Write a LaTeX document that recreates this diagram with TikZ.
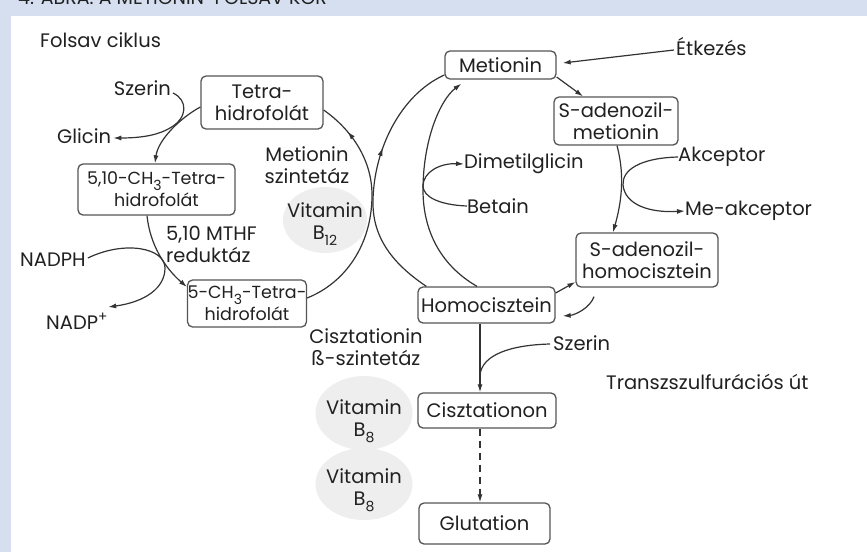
\documentclass[tikz,border=0pt]{standalone}
\usepackage{fontspec}
\setmainfont{Poppins}
\usetikzlibrary{shapes.geometric,arrows.meta,decorations.markings,calc}
\definecolor{hdr}{HTML}{D5DFF0}
\definecolor{ln}{HTML}{333333}
\definecolor{bx}{HTML}{555555}
\definecolor{vit}{HTML}{EEEEEE}
\newcommand\lowsub[1]{\raisebox{-0.32em}{\fontsize{14}{14}\selectfont #1}}
\begin{document}
\begin{tikzpicture}[x=1pt,y=-1pt,
  every node/.style={font=\fontsize{19.5}{22}\selectfont, text=black!87, inner sep=0pt},
  box/.style={draw=bx, line width=1.3pt, rounded corners=5pt, align=center, fill=white},
  narrow/.style={font=\fontsize{17.5}{22}\selectfont},
  lbl/.style={align=center},
  con/.style={draw=ln, line width=1.2pt},
  arr/.style={con, -{Latex[length=8pt,width=5pt]}},
  midarr/.style={con, postaction={decorate}, decoration={markings, mark=at position #1 with {\arrow{Latex[length=8pt,width=5pt]}}}},
  vitbg/.style={ellipse, fill=vit, align=center, inner sep=0pt},
]
\useasboundingbox (0,0) rectangle (867,552);
% background
\fill[white] (0,0) rectangle (867,552);
\fill[hdr] (0,0) rectangle (867,16);
\fill[hdr] (0,0) rectangle (11,552);
\node[anchor=base west, font=\fontsize{19}{19}\selectfont] (cap) at (18,4) {4. ÁBRA: A METIONIN-FOLSAV KÖR};

% vitamin backgrounds
\node[vitbg, minimum width=84pt, minimum height=66pt] (v12) at (325,220) {};
\node[lbl] (v12t) at (325,224) {Vitamin\\B\lowsub{12}};
\node[vitbg, minimum width=97pt, minimum height=74pt] (v8a) at (364,413) {};
\node[lbl] (v8at) at (364,421) {Vitamin\\B\lowsub{8}};
\node[vitbg, minimum width=97pt, minimum height=72pt] (v8b) at (364,484) {};
\node[lbl] (v8bt) at (364,490) {Vitamin\\B\lowsub{8}};

% boxes
\node[box, minimum width=122pt, minimum height=53pt] (thf) at (262,102.5) {Tetra-\\hidrofolát};
\node[box, narrow, minimum width=157pt, minimum height=51pt] (m510) at (156.5,189.5) {5,10-CH\lowsub{3}-Tetra-\\hidrofolát};
\node[box, narrow, minimum width=116pt, minimum height=47pt] (m5) at (247,303.5) {5-CH\lowsub{3}-Tetra-\\hidrofolát};
\node[box, minimum width=111pt, minimum height=28pt] (met) at (500.5,65) {Metionin};
\node[box, minimum width=124pt, minimum height=48pt] (sam) at (616,121) {S-adenozil-\\metionin};
\node[box, minimum width=142pt, minimum height=54pt] (sah) at (647,260) {S-adenozil-\\homocisztein};
\node[box, minimum width=137pt, minimum height=36pt] (hcy) at (486.5,305) {Homocisztein};
\node[box, minimum width=138pt, minimum height=35pt] (cyst) at (487,410.5) {Cisztationon};
\node[box, minimum width=131pt, minimum height=41pt] (glut) at (484.5,523.5) {Glutation};

% labels
\node[anchor=west] (folsav) at (40,40) {Folsav ciklus};
\node[anchor=east] (szerin1) at (171,88) {Szerin};
\node[anchor=west] (glicin) at (57,136) {Glicin};
\node[anchor=west] (nadph) at (20,260) {NADPH};
\node[anchor=west] (nadp) at (46,321) {NADP\textsuperscript{+}};
\node[anchor=west, align=left] (mthfr) at (166,244) {5,10 MTHF\\reduktáz};
\node[lbl] (metsyn) at (307,165) {Metionin\\szintetáz};
\node[lbl] (cbs) at (366,347) {Cisztationin\\ß-szintetáz};
\node[anchor=west] (etk) at (676,47) {Étkezés};
\node[anchor=west] (dmg) at (464,164) {Dimetilglicin};
\node[anchor=west] (bet) at (467,206) {Betain};
\node[anchor=west] (akc) at (678,157) {Akceptor};
\node[anchor=west] (meakc) at (685,211) {Me-akceptor};
\node[anchor=west] (szerin2) at (553,343) {Szerin};
\node[anchor=west] (trans) at (606,382) {Transzszulfurációs út};

% folate cycle
\draw[arr] (thf.west |- 0,107) .. controls (180,118) and (158,140) .. (m510.north -| 155,0);
\draw[arr] ($(szerin1.east)+(2,5)$) .. controls (188,100) and (188,118) .. (170,128) .. controls (160,134) and (145,138) .. ($(glicin.east)+(2,2)$);
\draw[arr] (m510.south -| 147,0) .. controls (150,245) and (165,268) .. (m5.west |- 0,287);
\draw[arr] ($(nadph.east)+(2,-2)$) .. controls (125,240) and (165,248) .. (165,268) .. controls (165,288) and (145,302) .. ($(nadp.east)+(0,-14)$);
\draw[midarr=0.86] (m5.east |- 0,298) .. controls (345,283) and (372,245) .. (372,195) .. controls (372,160) and (352,130) .. (thf.east |- 0,110);

% methionine cycle
\draw[midarr=0.62] ($(hcy.north west)+(9,0)$) .. controls (390,262) and (372,235) .. (373,200) .. controls (374,150) and (400,95) .. (met.west |- 0,75);
\draw[arr] (hcy.north -| 477,0) .. controls (440,265) and (423,230) .. (423,190) .. controls (423,140) and (440,100) .. ($(met.south west)+(17,4)$);
\draw[arr] (bet.west) .. controls (440,205) and (423,197) .. (423,186) .. controls (423,172) and (440,163) .. (dmg.west);
\draw[arr] ($(etk.west)+(-2,3)$) -- ($(met.east)+(6,-2)$);
\draw[arr] (met.east |- 0,77) -- (sam.north -| 583,0);
\draw[arr] (sam.south -| 617,0) .. controls (622,165) and (625,190) .. (sah.north -| 613,0);
\draw[arr] (akc.west) .. controls (640,158) and (622,170) .. (623,185) .. controls (625,205) and (650,213) .. (meakc.west);
\draw[arr] (hcy.east |- 0,293) -- (sah.west |- 0,282);
\draw[arr] ($(sah.south -| 594,0)+(0,9)$) .. controls (590,308) and (575,315) .. ($(hcy.east |- 0,316)+(7,0)$);

% transsulfuration
\draw[arr] (hcy.south -| 480,0) -- (cyst.north -| 480,0);
\draw[con] ($(szerin2.west)+(-3,1)$) .. controls (510,345) and (482,355) .. (480,375);
\draw[arr, dashed, dash pattern=on 7pt off 5pt] (cyst.south -| 480,0) -- (glut.north -| 480,0);
\end{tikzpicture}
\end{document}
